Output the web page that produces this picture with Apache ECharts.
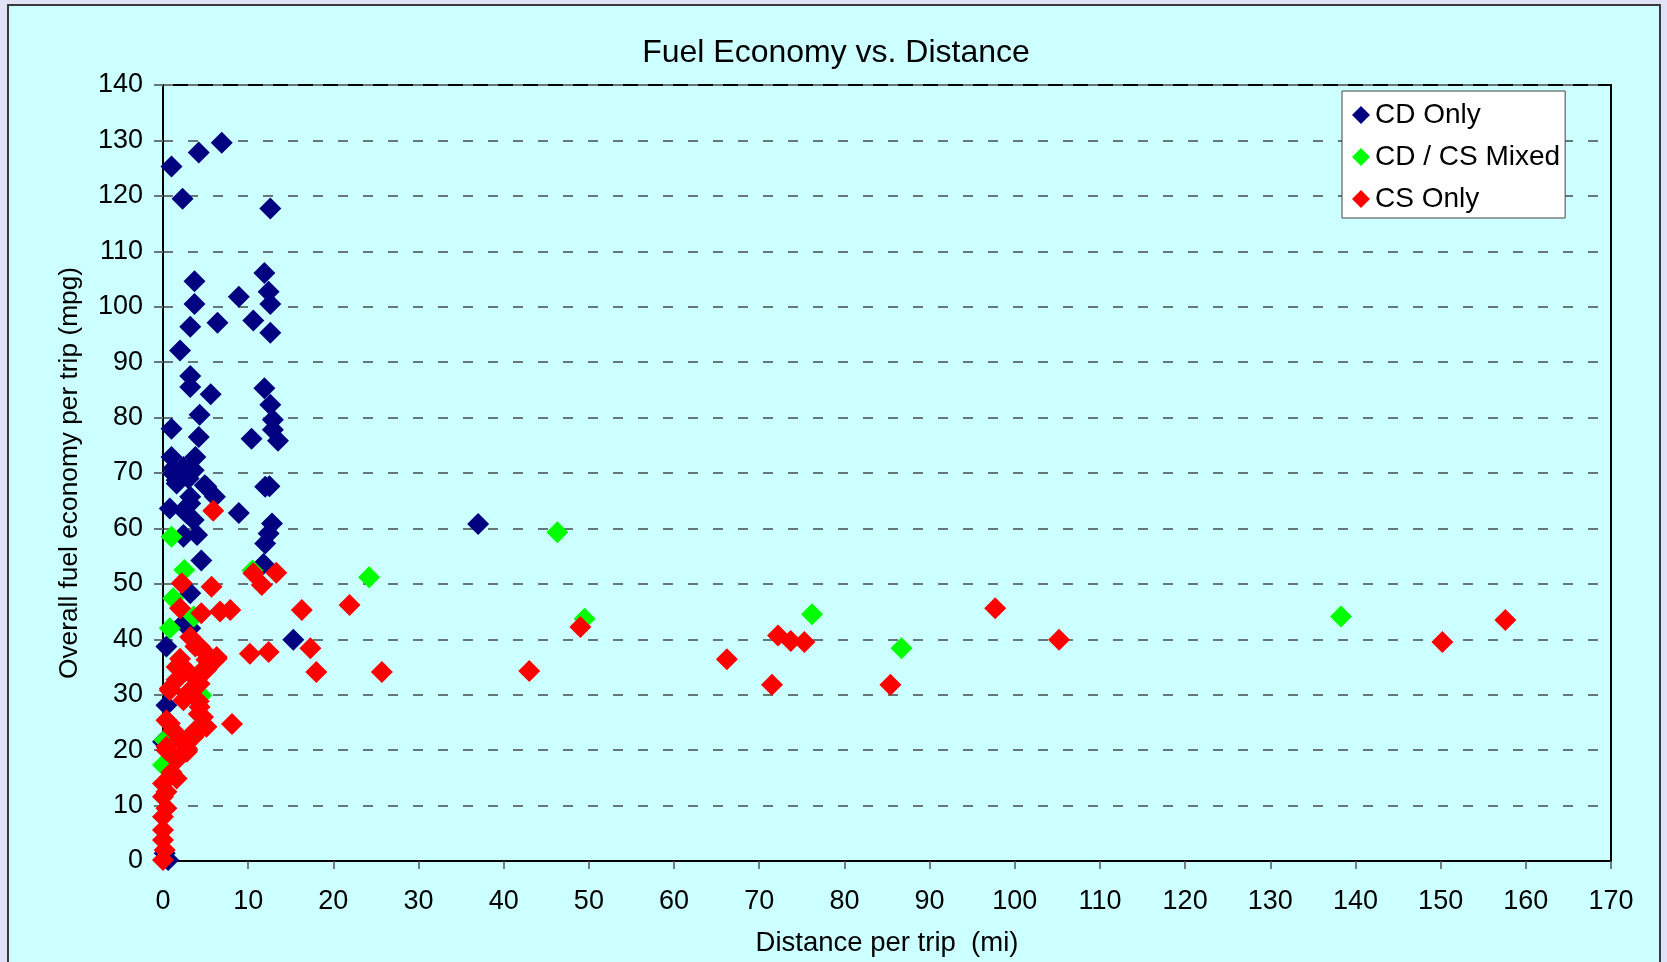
<!DOCTYPE html>
<html>
<head>
<meta charset="utf-8">
<script src="https://cdn.jsdelivr.net/npm/echarts@6/dist/echarts.min.js"></script>
<style>
  html, body { margin: 0; padding: 0; width: 1667px; height: 962px; overflow: hidden; background: #dfe3f5; }
  #panel { position: absolute; left: 7px; top: 4px; width: 1654px; height: 990px; background: #ccffff; border: 2px solid #3a3a3a; box-sizing: border-box; }
  #chart { position: absolute; left: 0; top: 0; width: 1667px; height: 962px; }
</style>
</head>
<body>
<div id="panel"></div>
<div id="chart"></div>
<script>
// ---- Data (distance per trip in miles, overall fuel economy in mpg) ----
const seriesNames = ['CD Only', 'CD / CS Mixed', 'CS Only'];

const cdOnly = [
  [1.0,125.3],[4.2,127.8],[6.9,129.6],[2.3,119.5],[12.6,117.7],[11.9,106.1],[3.7,104.6],
  [12.4,102.7],[8.9,101.8],[3.7,100.5],[12.6,100.5],[10.6,97.5],[6.4,97.1],[3.2,96.4],
  [12.6,95.3],[2.0,92.1],[3.2,87.5],[3.2,85.5],[5.6,84.2],[11.9,85.3],[12.6,82.3],
  [4.3,80.5],[12.9,79.6],[1.0,78.0],[12.9,77.8],[4.2,76.5],[10.4,76.2],[13.5,75.8],
  [1.0,72.9],[3.8,72.9],[1.2,70.8],[2.4,71.1],[3.6,70.5],[3.0,70.5],[1.2,69.9],[1.6,68.7],
  [1.6,68.1],[3.0,69.0],[5.1,67.5],[4.9,67.8],[12.0,67.5],[12.5,67.6],[6.1,65.7],[3.2,65.7],
  [0.8,63.6],[3.2,64.5],[2.8,62.7],[2.4,63.3],[8.9,62.8],[3.6,61.5],[12.8,60.9],[12.4,59.1],
  [12.0,57.3],[2.4,58.8],[2.4,58.5],[4.0,58.8],[4.5,54.2],[11.8,53.6],[3.2,48.3],[2.4,42.9],
  [3.2,42.0],[0.4,38.7],[15.3,39.9],[37.0,60.8],[0.4,28.1],[0.0,21.5],[0.2,1.4],[0.6,0.2]
];

const cdCsMixed = [
  [1.0,58.5],[2.5,52.5],[10.5,52.4],[1.2,47.4],[3.6,44.1],[0.8,42.0],[4.5,29.9],
  [0.2,21.8],[0.0,17.3],[24.2,51.2],[46.3,59.3],[49.5,43.7],[76.2,44.5],[86.7,38.4],
  [138.3,44.1]
];

const csOnly = [
  [5.9,63.2],[10.6,51.9],[13.3,52.0],[11.6,49.8],[2.2,50.1],[5.7,49.5],[2.0,45.6],
  [4.5,44.7],[6.7,45.0],[7.9,45.3],[16.3,45.3],[3.2,40.4],[3.8,38.7],[4.3,38.7],[17.3,38.4],
  [10.2,37.4],[12.4,37.7],[2.0,36.5],[5.1,37.4],[6.3,36.8],[6.3,36.5],[1.6,35.0],[3.2,33.8],
  [5.1,34.5],[4.7,34.5],[18.0,34.1],[2.0,35.6],[5.1,36.3],[0.8,31.1],[0.8,30.8],[1.6,32.7],
  [3.6,31.4],[4.3,32.0],[2.8,30.2],[2.4,29.0],[4.2,28.8],[4.3,27.8],[4.2,26.5],[4.7,26.0],
  [8.1,24.7],[5.1,24.2],[0.4,25.4],[0.8,24.8],[1.2,23.6],[3.7,23.4],[3.6,22.7],[3.6,22.4],
  [2.0,22.1],[2.4,21.2],[2.8,19.7],[2.8,20.3],[0.4,20.6],[0.4,20.0],[1.6,18.2],[1.0,16.0],
  [1.6,14.9],[0.0,14.0],[0.4,12.5],[0.0,11.6],[0.4,9.5],[0.0,8.0],[0.0,5.6],[0.0,3.8],
  [0.2,2.0],[0.0,0.2],
  [21.9,46.2],[25.7,34.1],[43.0,34.3],[49.0,42.2],[66.2,36.4],[71.5,31.8],[72.2,40.7],
  [73.7,39.7],[75.3,39.5],[85.4,31.8],[97.7,45.6],[105.2,39.9],[150.2,39.5],[157.6,43.5]
];

const xTicks = [0,10,20,30,40,50,60,70,80,90,100,110,120,130,140,150,160,170];
const yTicks = [0,10,20,30,40,50,60,70,80,90,100,110,120,130,140];

const FONT = "'Liberation Sans', Arial, sans-serif";
const colors = ['#000080', '#00ff00', '#ff0000'];

const chart = echarts.init(document.getElementById('chart'), null, { renderer: 'canvas' });

const option = {
  backgroundColor: 'transparent',
  animation: false,
  title: {
    text: 'Fuel Economy vs. Distance',
    left: 836, top: 37, textAlign: 'center', padding: 0,
    textStyle: { fontFamily: FONT, fontSize: 32, fontWeight: 'normal', color: '#000' }
  },
  legend: {
    data: seriesNames,
    orient: 'vertical',
    left: 1342, top: 91,
    padding: [10, 5, 5, 10],
    itemGap: 14, itemWidth: 18, itemHeight: 18,
    icon: 'diamond',
    backgroundColor: '#ffffff', borderColor: '#444', borderWidth: 1,
    textStyle: { fontFamily: FONT, fontSize: 28, color: '#000' }
  },
  grid: {
    left: 163, top: 85, right: 56, bottom: 101,
    show: true, borderColor: '#000', borderWidth: 2, backgroundColor: 'transparent'
  },
  xAxis: {
    type: 'value',
    min: xTicks[0], max: xTicks[xTicks.length - 1], interval: 10,
    name: 'Distance per trip  (mi)', nameLocation: 'middle', nameGap: 68,
    nameTextStyle: { fontFamily: FONT, fontSize: 27.5, color: '#000' },
    axisLine: { show: true, onZero: false, lineStyle: { color: '#000', width: 2 } },
    axisTick: { show: true, length: 8, lineStyle: { color: '#555', width: 1.5 } },
    axisLabel: { margin: 27, fontFamily: FONT, fontSize: 27, color: '#000' },
    splitLine: { show: false }
  },
  yAxis: {
    type: 'value',
    min: yTicks[0], max: yTicks[yTicks.length - 1], interval: 10,
    name: 'Overall fuel economy per trip (mpg)', nameLocation: 'middle', nameGap: 80,
    nameRotate: 90,
    nameTextStyle: { fontFamily: FONT, fontSize: 26.3, color: '#000' },
    axisLine: { show: true, onZero: false, lineStyle: { color: '#000', width: 2 } },
    axisTick: { show: true, length: 9, lineStyle: { color: '#667777', width: 2 } },
    axisLabel: { margin: 20, fontFamily: FONT, fontSize: 27, color: '#000' },
    splitLine: { show: true, lineStyle: { color: '#667777', width: 2, type: [10, 15] } }
  },
  series: [
    { name: seriesNames[0], type: 'scatter', symbol: 'diamond', symbolSize: 22,
      itemStyle: { color: colors[0], opacity: 1 }, data: cdOnly, z: 2 },
    { name: seriesNames[1], type: 'scatter', symbol: 'diamond', symbolSize: 22,
      itemStyle: { color: colors[1], opacity: 1 }, data: cdCsMixed, z: 3 },
    { name: seriesNames[2], type: 'scatter', symbol: 'diamond', symbolSize: 22,
      itemStyle: { color: colors[2], opacity: 1 }, data: csOnly, z: 4 }
  ]
};
chart.setOption(option);
</script>
</body>
</html>
